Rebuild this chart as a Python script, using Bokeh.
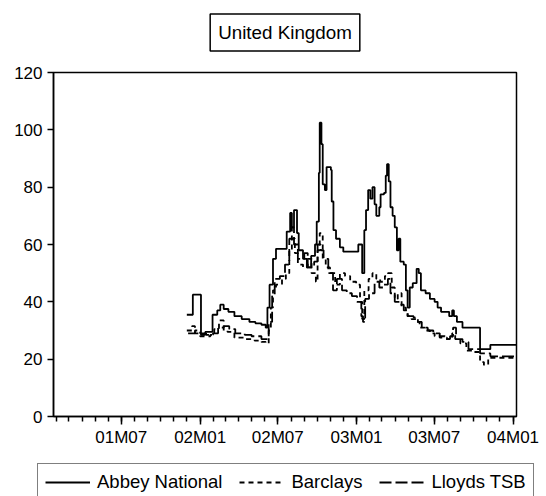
import pandas as pd
from bokeh.plotting import figure
from bokeh.layouts import column
from bokeh.models import Range1d, FixedTicker, Label, DatetimeTickFormatter
from bokeh.embed import file_html
from bokeh.resources import INLINE

title_text = "United Kingdom"

abbey_dates = ["2001-12-01", "2001-12-15", "2002-01-03", "2002-01-13", "2002-01-30", "2002-02-10",
               "2002-02-17", "2002-02-25", "2002-03-08", "2002-03-22", "2002-04-08", "2002-04-26",
               "2002-05-10", "2002-05-24", "2002-06-03", "2002-06-07", "2002-06-12", "2002-06-20",
               "2002-06-27", "2002-07-22", "2002-07-30", "2002-08-03", "2002-08-08", "2002-08-15",
               "2002-08-19", "2002-08-29", "2002-09-07", "2002-09-17", "2002-09-26", "2002-09-30",
               "2002-10-05", "2002-10-07", "2002-10-11", "2002-10-14", "2002-10-19", "2002-10-23",
               "2002-11-02", "2002-11-04", "2002-11-08", "2002-11-14", "2002-11-23", "2002-12-01",
               "2003-01-05", "2003-01-14", "2003-01-19", "2003-01-23", "2003-01-28", "2003-02-02",
               "2003-02-07", "2003-02-12", "2003-02-16", "2003-02-23", "2003-02-26", "2003-03-06",
               "2003-03-10", "2003-03-13", "2003-03-17", "2003-03-21", "2003-03-26", "2003-03-31",
               "2003-04-05", "2003-04-09", "2003-04-13", "2003-04-21", "2003-04-26", "2003-04-30",
               "2003-05-05", "2003-05-12", "2003-05-21", "2003-05-26", "2003-05-31", "2003-06-11",
               "2003-06-21", "2003-07-02", "2003-07-09", "2003-07-17", "2003-08-05", "2003-08-12",
               "2003-08-16", "2003-08-23", "2003-09-05", "2003-10-16", "2003-11-09", "2004-01-09"]
abbey_values = [35.5, 42.5, 28.5, 29.5, 35.5, 37,
                39, 37.5, 36.5, 35, 34, 33,
                32.5, 32, 31, 38, 46, 55,
                58.5, 64.5, 71, 66, 72, 64,
                58, 55, 52, 56, 60, 68,
                85, 102.5, 95, 81, 79, 87,
                86, 75, 65, 62, 59, 57.5,
                60, 50, 65, 72, 79, 76,
                80, 74, 70, 73, 77.5, 78,
                84, 88, 82, 73, 70, 66,
                58, 62, 54, 53, 44, 38,
                45, 46.5, 51.5, 50, 44, 43,
                41, 40, 38, 36.5, 35, 37,
                35, 33, 31, 23.5, 25, 25]

barclays_dates = ["2001-12-01", "2001-12-13", "2001-12-20", "2002-01-01", "2002-01-25", "2002-02-03",
                  "2002-02-14", "2002-02-25", "2002-03-06", "2002-03-22", "2002-04-15", "2002-05-08",
                  "2002-05-24", "2002-06-03", "2002-06-10", "2002-06-15", "2002-06-20", "2002-06-27",
                  "2002-07-11", "2002-07-20", "2002-07-28", "2002-08-03", "2002-08-10", "2002-08-17",
                  "2002-08-29", "2002-09-09", "2002-09-18", "2002-09-28", "2002-10-02", "2002-10-07",
                  "2002-10-14", "2002-10-21", "2002-10-31", "2002-11-12", "2002-11-23", "2002-12-05",
                  "2002-12-17", "2002-12-31", "2003-01-09", "2003-01-14", "2003-01-19", "2003-01-29",
                  "2003-02-07", "2003-02-16", "2003-02-25", "2003-03-08", "2003-03-15", "2003-03-24",
                  "2003-03-31", "2003-04-07", "2003-04-16", "2003-04-26", "2003-04-30", "2003-05-09",
                  "2003-05-21", "2003-05-28", "2003-06-09", "2003-06-21", "2003-07-02", "2003-07-14",
                  "2003-07-31", "2003-08-12", "2003-08-19", "2003-08-31", "2003-09-14", "2003-10-04",
                  "2003-10-16", "2003-10-25", "2003-11-04", "2004-01-09"]
barclays_values = [30, 31.5, 29, 28, 28.5, 30.5,
                   33.5, 30, 29.5, 27.5, 27, 26.5,
                   26, 25.5, 30, 38, 44, 46,
                   48, 50, 58, 62, 57, 53,
                   52, 55, 50, 47, 58, 64,
                   55, 52, 50, 46, 50, 49,
                   47, 46, 40, 34, 44, 48,
                   50, 48, 47, 49, 50, 45,
                   41, 43, 38, 36, 35, 34,
                   33, 31, 30, 29, 28, 27.5,
                   27, 29, 27, 25.5, 23, 22.5,
                   19, 18, 20.5, 20.5]

lloyds_dates = ["2001-12-04", "2001-12-20", "2002-01-01", "2002-01-15", "2002-01-31", "2002-02-12",
                "2002-02-25", "2002-03-10", "2002-03-24", "2002-04-15", "2002-05-01", "2002-05-24",
                "2002-06-03", "2002-06-10", "2002-06-18", "2002-06-24", "2002-07-06", "2002-07-18",
                "2002-07-28", "2002-08-03", "2002-08-08", "2002-08-17", "2002-09-01", "2002-09-09",
                "2002-09-24", "2002-10-02", "2002-10-09", "2002-10-16", "2002-10-27", "2002-11-07",
                "2002-11-16", "2002-11-28", "2002-12-09", "2002-12-21", "2003-01-02", "2003-01-12",
                "2003-01-16", "2003-01-21", "2003-01-30", "2003-02-12", "2003-02-23", "2003-03-06",
                "2003-03-15", "2003-03-21", "2003-03-31", "2003-04-12", "2003-04-21", "2003-04-30",
                "2003-05-14", "2003-05-24", "2003-06-02", "2003-06-16", "2003-06-29", "2003-07-14",
                "2003-07-26", "2003-08-07", "2003-08-14", "2003-08-21", "2003-09-05", "2003-09-19",
                "2003-10-16", "2003-11-09", "2004-01-09"]
lloyds_values = [29, 30, 29, 28.5, 29, 31,
                 31.5, 30.5, 29, 28.5, 28, 27,
                 27, 33, 42, 48, 49, 53,
                 62, 66, 60, 55, 57, 52,
                 54, 60, 58, 55, 50, 44,
                 48, 44, 43, 42, 40, 35,
                 33, 41, 43, 47, 45, 46,
                 48, 43, 40, 39, 37, 35,
                 34.5, 33, 31, 30, 29, 28,
                 27, 28, 31, 27, 26, 23.5,
                 22, 21, 21]

series_names = ["Abbey National", "Barclays", "Lloyds TSB"]
series_dashes = ["solid", "5 4", "12 4"]

y_ticks = [0, 20, 40, 60, 80, 100, 120]
x_tick_dates = ["2001-07-01", "2002-01-01", "2002-07-01", "2003-01-01", "2003-07-01", "2004-01-01"]
x_tick_labels = ["01M07", "02M01", "02M07", "03M01", "03M07", "04M01"]
x_start, x_end = "2001-01-24", "2004-01-09"

FONT = "Liberation Sans"
LINE_W = 1.8
W = 546


def ms(d):
    return pd.Timestamp(d).value / 1e6


def no_frame_align(fig):
    if "frame_align" in fig.properties():
        fig.frame_align = False


def blank(fig):
    fig.xgrid.visible = False
    fig.ygrid.visible = False
    fig.outline_line_color = None
    fig.background_fill_color = "white"
    fig.border_fill_color = "white"


all_dates = [abbey_dates, barclays_dates, lloyds_dates]
all_values = [abbey_values, barclays_values, lloyds_values]

# ---------- title strip ----------
tf = figure(width=W, height=60, output_backend="svg", toolbar_location=None,
            x_axis_location=None, y_axis_location=None,
            x_range=Range1d(0, W), y_range=Range1d(0, 60), min_border=0)
blank(tf)
no_frame_align(tf)
tf.add_layout(Label(x=284.5, y=28, text=title_text, text_align="center", text_baseline="middle",
                    text_font=FONT, text_font_size="18.8px", text_color="black",
                    border_line_color="black", border_line_width=1.5,
                    background_fill_color="white", padding=8))

# ---------- main chart ----------
p = figure(width=W, height=396, output_backend="svg", toolbar_location=None,
           x_axis_type="datetime",
           x_range=Range1d(ms(x_start), ms(x_end)), y_range=Range1d(0, 120),
           min_border_left=53, min_border_right=30, min_border_top=12, min_border_bottom=40)
no_frame_align(p)
p.background_fill_color = "white"
p.border_fill_color = "white"
p.xgrid.visible = False
p.ygrid.visible = False
p.outline_line_color = "black"
p.outline_line_width = 1.5
p.outline_line_alpha = 1.0

for name, dash, d, v in zip(series_names, series_dashes, all_dates, all_values):
    p.step(x=pd.to_datetime(d), y=v, mode="after", line_color="black", line_width=LINE_W,
           line_dash=dash)

xax = p.xaxis[0]
minor = [ms(t) for t in pd.date_range("2001-02-01", "2004-01-01", freq="MS")]
major = [ms(t) for t in x_tick_dates]
xax.ticker = FixedTicker(ticks=major, minor_ticks=minor)
fmt = "%yM%m"
xax.formatter = DatetimeTickFormatter(microseconds=fmt, milliseconds=fmt, seconds=fmt, minsec=fmt,
                                      minutes=fmt, hourmin=fmt, hours=fmt, days=fmt, months=fmt, years=fmt)
xax.major_label_overrides = {m: lab for m, lab in zip(major, x_tick_labels)}
xax.major_tick_out = 8
xax.minor_tick_out = 5
xax.major_label_standoff = 3

yax = p.yaxis[0]
yax.ticker = FixedTicker(ticks=y_ticks)
yax.major_tick_out = 6
yax.minor_tick_out = 0
yax.major_label_standoff = 5

for ax in [xax, yax]:
    ax.major_tick_in = 0
    ax.minor_tick_in = 0
    ax.axis_line_color = "black"
    ax.axis_line_width = 1.5
    ax.major_tick_line_color = "black"
    ax.major_tick_line_width = 1.5
    ax.minor_tick_line_color = "black"
    ax.minor_tick_line_width = 1.5
    ax.major_label_text_font = FONT
    ax.major_label_text_font_size = "17px"
    ax.major_label_text_color = "black"

# ---------- legend strip ----------
lg = figure(width=W, height=40, output_backend="svg", toolbar_location=None,
            x_axis_location=None, y_axis_location=None,
            x_range=Range1d(0, 1), y_range=Range1d(0, 1), min_border=0)
blank(lg)
no_frame_align(lg)
# same series (outside this strip's ranges, so only their legend keys show)
for name, dash, d, v in zip(series_names, series_dashes, all_dates, all_values):
    lg.step(x=pd.to_datetime(d), y=v, mode="after", line_color="black", line_width=LINE_W,
            line_dash=dash, legend_label=name)
leg = lg.legend[0]
leg.location = (37, -5)
leg.orientation = "horizontal"
leg.padding = 7
leg.margin = 0
leg.spacing = 17
leg.glyph_width = 45
leg.glyph_height = 20
leg.label_height = 20
leg.label_standoff = 7
leg.label_text_font = FONT
leg.label_text_font_size = "18.5px"
leg.label_text_color = "black"
leg.border_line_color = "black"
leg.border_line_width = 1.5
leg.background_fill_color = "white"
leg.background_fill_alpha = 1.0

layout = column(tf, p, lg, spacing=0)
open("out.html", "w").write(file_html(layout, INLINE))
